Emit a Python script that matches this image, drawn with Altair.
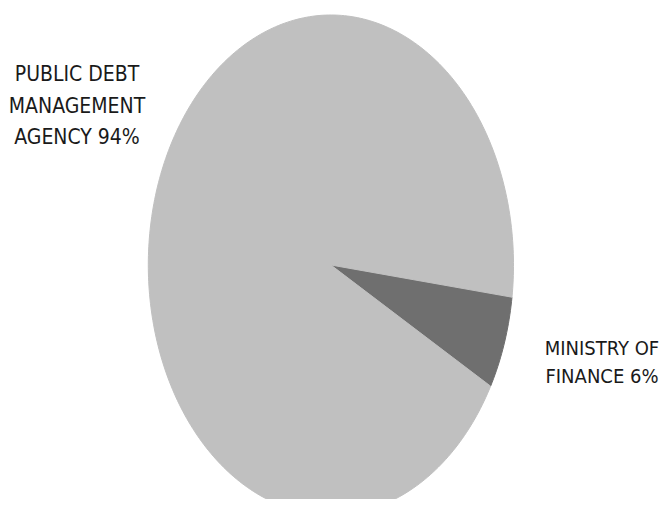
import math
import altair as alt
import pandas as pd

# ---- data ----
categories = ["MINISTRY OF FINANCE", "PUBLIC DEBT MANAGEMENT AGENCY"]
shares = [6, 94]
labels = ["MINISTRY OF\nFINANCE 6%", "PUBLIC DEBT\nMANAGEMENT\nAGENCY 94%"]

# ---- style ----
colors = ["#6f6f6f", "#c0c0c0"]
start_deg = -7.4          # math angle where the first slice starts (goes clockwise)
steps_full = 360

# build wedge outlines (unit circle, stretched to an ellipse by the x/y scales)
rows = []
total = sum(shares)
ang = start_deg
for cat, val in zip(categories, shares):
    sweep = 360.0 * val / total
    n = max(12, int(steps_full * val / total))
    pts = [(0.0, 0.0)]
    for i in range(n + 1):
        a = math.radians(ang - sweep * i / n)
        pts.append((math.cos(a), math.sin(a)))
    pts.append((0.0, 0.0))
    for k, (px, py) in enumerate(pts):
        rows.append({"slice": cat, "idx": k, "px": px, "py": py})
    ang -= sweep
df = pd.DataFrame(rows)

xs = alt.Scale(domain=[-1, 1], range=[140.3, 505.5])
ys = alt.Scale(domain=[-1, 1], range=[507, 7])
cscale = alt.Scale(domain=categories, range=colors)

pie = alt.Chart(df).mark_line(strokeWidth=1, interpolate="linear").encode(
    x=alt.X("px:Q", scale=xs, axis=None),
    y=alt.Y("py:Q", scale=ys, axis=None),
    fill=alt.Fill("slice:N", scale=cscale, legend=None),
    stroke=alt.Stroke("slice:N", scale=cscale, legend=None),
    detail="slice:N",
    order=alt.Order("idx:Q"),
)

font = "DejaVu Sans Condensed, Liberation Sans Narrow, sans-serif"

left_lbl = alt.Chart(pd.DataFrame({"t": [labels[1]]})).mark_text(
    font=font, fontSize=21, align="center", baseline="middle",
    lineHeight=31.5, color="#1a1a1a", lineBreak="\n",
).encode(text="t:N", x=alt.value(69), y=alt.value(67))

right_lbl = alt.Chart(pd.DataFrame({"t": [labels[0]]})).mark_text(
    font=font, fontSize=20, align="center", baseline="middle",
    lineHeight=28, color="#1a1a1a", lineBreak="\n",
).encode(text="t:N", x=alt.value(594), y=alt.value(340.5))

chart = alt.layer(pie, left_lbl, right_lbl).properties(
    width=651, height=491, autosize="none", padding=0, background="white",
).configure_view(stroke=None)

chart.save("out.html", embed_options={"renderer": "svg", "actions": False})
